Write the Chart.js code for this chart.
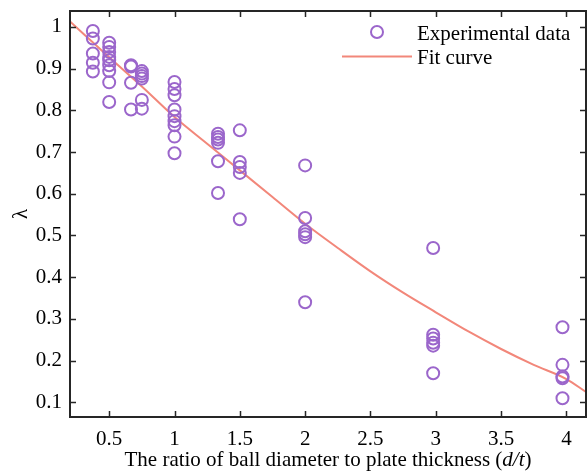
<!DOCTYPE html>
<html>
<head>
<meta charset="utf-8">
<script src="https://cdn.jsdelivr.net/npm/chart.js@4/dist/chart.umd.min.js"></script>
<style>
  body { margin: 0; background: #fff; }
</style>
</head>
<body>
<canvas id="myChart" width="587" height="472"></canvas>
<script>
// experimental points: ratio d/t and lambda
const ratioDT = [
  0.375, 0.375, 0.375, 0.375, 0.375,
  0.5, 0.5, 0.5, 0.5, 0.5, 0.5, 0.5, 0.5, 0.5,
  0.667, 0.667, 0.667, 0.667,
  0.75, 0.75, 0.75, 0.75, 0.75, 0.75,
  1, 1, 1, 1, 1, 1, 1, 1, 1,
  1.333, 1.333, 1.333, 1.333, 1.333, 1.333,
  1.5, 1.5, 1.5, 1.5, 1.5,
  2, 2, 2, 2, 2, 2,
  2.98, 2.98, 2.98, 2.98, 2.98, 2.98,
  3.97, 3.97, 3.97, 3.97, 3.97
];
const lambdaExp = [
  0.99, 0.972, 0.936, 0.914, 0.893,
  0.962, 0.952, 0.94, 0.928, 0.92, 0.908, 0.894, 0.867, 0.82,
  0.908, 0.905, 0.866, 0.802,
  0.894, 0.888, 0.882, 0.876, 0.825, 0.804,
  0.868, 0.851, 0.836, 0.802, 0.786, 0.774, 0.764, 0.737, 0.697,
  0.744, 0.736, 0.73, 0.722, 0.678, 0.602,
  0.752, 0.676, 0.664, 0.65, 0.539,
  0.668, 0.542, 0.51, 0.503, 0.496, 0.34,
  0.47, 0.262, 0.253, 0.243, 0.236, 0.17,
  0.28, 0.19, 0.162, 0.158, 0.11
];

// fit curve
const fitX = [0.2, 0.5, 0.75, 1, 1.25, 1.5, 1.75, 2, 2.25, 2.5, 2.75, 3, 3.25, 3.5, 3.75, 4, 4.15];
const fitY = [1.013, 0.927, 0.857, 0.784, 0.72, 0.656, 0.592, 0.528, 0.47, 0.414, 0.363, 0.316, 0.27, 0.228, 0.19, 0.156, 0.125];

const xTicks = [0.5, 1, 1.5, 2, 2.5, 3, 3.5, 4];
const yTicks = [0.1, 0.2, 0.3, 0.4, 0.5, 0.6, 0.7, 0.8, 0.9, 1];

const purple = "#9b66cb";
const salmon = "#f2877a";
const axisColor = "#262626";
const serif = "'Liberation Serif', 'Times New Roman', serif";

const ctx = document.getElementById("myChart");

// box + inward ticks, legend and axis titles
const decorations = {
  id: "decorations",
  afterDraw(chart) {
    const c = chart.ctx;
    const a = chart.chartArea;
    const xs = chart.scales.x;
    const ys = chart.scales.y;
    const tl = 6;
    c.save();
    c.strokeStyle = axisColor;
    c.lineWidth = 2;
    c.strokeRect(a.left, a.top, a.right - a.left, a.bottom - a.top);
    c.lineWidth = 1.5;
    c.beginPath();
    xTicks.forEach((v) => {
      const px = Math.round(xs.getPixelForValue(v)) + 0.5;
      c.moveTo(px, a.bottom); c.lineTo(px, a.bottom - tl);
      c.moveTo(px, a.top); c.lineTo(px, a.top + tl);
    });
    yTicks.forEach((v) => {
      const py = Math.round(ys.getPixelForValue(v)) + 0.5;
      c.moveTo(a.left, py); c.lineTo(a.left + tl, py);
      c.moveTo(a.right, py); c.lineTo(a.right - tl, py);
    });
    c.stroke();

    // legend
    c.fillStyle = "#000";
    c.font = "21px " + serif;
    c.textBaseline = "alphabetic";
    c.textAlign = "left";
    c.strokeStyle = purple;
    c.lineWidth = 2;
    c.beginPath();
    c.arc(377, 32, 6, 0, Math.PI * 2);
    c.stroke();
    c.fillText("Experimental data", 417, 39.5);
    c.strokeStyle = salmon;
    c.beginPath();
    c.moveTo(342, 56.5); c.lineTo(412, 56.5);
    c.stroke();
    c.fillText("Fit curve", 417, 64);

    // x title with italic d/t
    const p1 = "The ratio of ball diameter to plate thickness (";
    const p2 = "d/t";
    const p3 = ")";
    c.font = "21px " + serif;
    const w1 = c.measureText(p1).width;
    const w3 = c.measureText(p3).width;
    c.font = "italic 21px " + serif;
    const w2 = c.measureText(p2).width;
    let x0 = (a.left + a.right) / 2 - (w1 + w2 + w3) / 2;
    c.font = "21px " + serif;
    c.fillText(p1, x0, 466);
    c.font = "italic 21px " + serif;
    c.fillText(p2, x0 + w1, 466);
    c.font = "21px " + serif;
    c.fillText(p3, x0 + w1 + w2, 466);

    // y title
    c.translate(27, (a.top + a.bottom) / 2);
    c.rotate(-Math.PI / 2);
    c.textAlign = "center";
    c.fillText("λ", 0, 0);
    c.restore();
  }
};

function noPadding(scale) {
  scale.paddingTop = 0;
  scale.paddingBottom = 0;
  scale.paddingLeft = 0;
  scale.paddingRight = 0;
}

new Chart(ctx, {
  type: "scatter",
  data: {
    datasets: [
      {
        label: "Experimental data",
        data: ratioDT.map((x, i) => ({ x: x, y: lambdaExp[i] })),
        pointStyle: "circle",
        pointRadius: 6,
        pointBorderWidth: 2,
        pointBorderColor: purple,
        pointBackgroundColor: "rgba(0,0,0,0)",
        order: 1,
      },
      {
        label: "Fit curve",
        data: fitX.map((x, i) => ({ x: x, y: fitY[i] })),
        showLine: true,
        cubicInterpolationMode: "monotone",
        borderColor: salmon,
        borderWidth: 2,
        pointRadius: 0,
        order: 2,
      },
    ],
  },
  options: {
    responsive: false,
    animation: false,
    layout: { autoPadding: false, padding: { top: 11, right: 1, left: 0, bottom: 0 } },
    plugins: {
      legend: { display: false },
      tooltip: { enabled: false },
    },
    scales: {
      x: {
        type: "linear",
        min: 0.2,
        max: 4.15,
        grid: { display: false, drawTicks: false },
        border: { display: false },
        afterBuildTicks: (scale) => {
          scale.ticks = xTicks.map((v) => ({ value: v }));
        },
        afterFit: (scale) => { scale.height = 55; noPadding(scale); },
        ticks: {
          color: "#000",
          padding: 10,
          font: { family: serif, size: 21 },
          callback: (v) => String(v),
        },
      },
      y: {
        type: "linear",
        min: 0.065,
        max: 1.038,
        grid: { display: false, drawTicks: false },
        border: { display: false },
        afterBuildTicks: (scale) => {
          scale.ticks = yTicks.map((v) => ({ value: v }));
        },
        afterFit: (scale) => { scale.width = 70; noPadding(scale); },
        ticks: {
          color: "#000",
          padding: 8,
          font: { family: serif, size: 21 },
          callback: (v) => String(v),
        },
      },
    },
  },
  plugins: [decorations],
});
</script>
</body>
</html>
